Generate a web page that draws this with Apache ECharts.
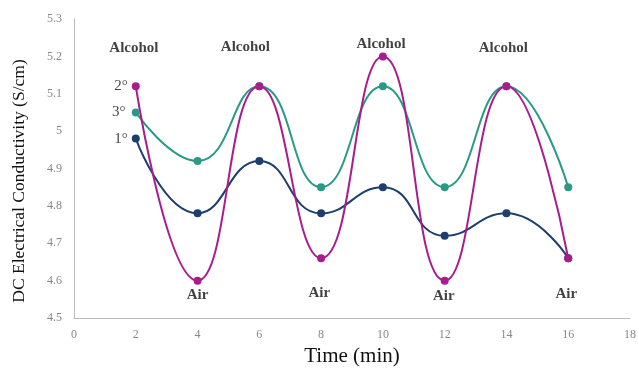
<!DOCTYPE html>
<html><head><meta charset="utf-8">
<script src="https://cdn.jsdelivr.net/npm/echarts@6/dist/echarts.min.js"></script>
<style>html,body{margin:0;padding:0;background:#fff}#c{width:639px;height:368px}</style>
</head><body><div id="c"></div>
<script>
const times = [2, 4, 6, 8, 10, 12, 14, 16];
const series1 = [4.98, 4.78, 4.92, 4.78, 4.85, 4.72, 4.78, 4.66];
const series2 = [5.12, 4.60, 5.12, 4.66, 5.20, 4.60, 5.12, 4.66];
const series3 = [5.05, 4.92, 5.12, 4.85, 5.12, 4.85, 5.12, 4.85];
const alcoholLabels = [[1.94, 5.222], [5.55, 5.226], [9.94, 5.232], [13.9, 5.222]];
const airLabels = [[4.0, 4.562], [7.94, 4.567], [11.97, 4.559], [15.94, 4.565]];
const degreeLabels = [[1.52, 5.12, '2°'], [1.45, 5.05, '3°'], [1.52, 4.98, '1°']];

const serif = '"Liberation Serif", "DejaVu Serif", serif';
function pairs(v) { return times.map((t, i) => [t, v[i]]); }
function lineSeries(name, vals, color) {
  return { name, type: 'line', smooth: 0.5, data: pairs(vals), symbol: 'circle', symbolSize: 8,
    lineStyle: { color, width: 2 }, itemStyle: { color }, z: 3 };
}
function textSeries(data, fmt, font) {
  return { type: 'scatter', symbolSize: 0, silent: true, data, z: 5,
    label: Object.assign({ show: true, position: 'inside', formatter: fmt, color: '#111', fontFamily: serif }, font) };
}
const chart = echarts.init(document.getElementById('c'));
chart.setOption({
  animation: false,
  grid: { left: 74, right: 9, top: 19, bottom: 50, outerBoundsMode: 'none', containLabel: false },
  graphic: [{ type: 'text', x: 19, y: 181, rotation: Math.PI / 2,
    style: { text: 'DC Electrical Conductivity (S/cm)', fontFamily: serif, fontSize: 17.5, fill: '#111',
      align: 'center', verticalAlign: 'middle' } }],
  xAxis: { type: 'value', min: 0, max: 18, interval: 2,
    name: 'Time (min)', nameLocation: 'middle', nameGap: 28,
    nameTextStyle: { fontFamily: serif, fontSize: 21, color: '#111' },
    axisLine: { lineStyle: { color: '#bbb' } }, axisTick: { show: false }, splitLine: { show: false },
    axisLabel: { fontFamily: serif, fontSize: 12, color: '#888', margin: 11 } },
  yAxis: { type: 'value', min: 4.5, max: 5.3, interval: 0.1,
    axisLine: { show: true, lineStyle: { color: '#bbb' } }, axisTick: { show: false }, splitLine: { show: false },
    axisLabel: { fontFamily: serif, fontSize: 12, color: '#888', margin: 12,
      formatter: v => String(Math.round(v * 10) / 10) } },
  series: [
    lineSeries('1°', series1, '#1c3e6e'),
    lineSeries('3°', series3, '#2a9a86'),
    lineSeries('2°', series2, '#a81d8e'),
    textSeries(alcoholLabels, 'Alcohol', { fontSize: 15, fontWeight: 'bold' }),
    textSeries(airLabels, 'Air', { fontSize: 15, fontWeight: 'bold' }),
    textSeries(degreeLabels.map(d => [d[0], d[1]]), p => degreeLabels[p.dataIndex][2], { fontSize: 15 })
  ]
});
</script></body></html>
